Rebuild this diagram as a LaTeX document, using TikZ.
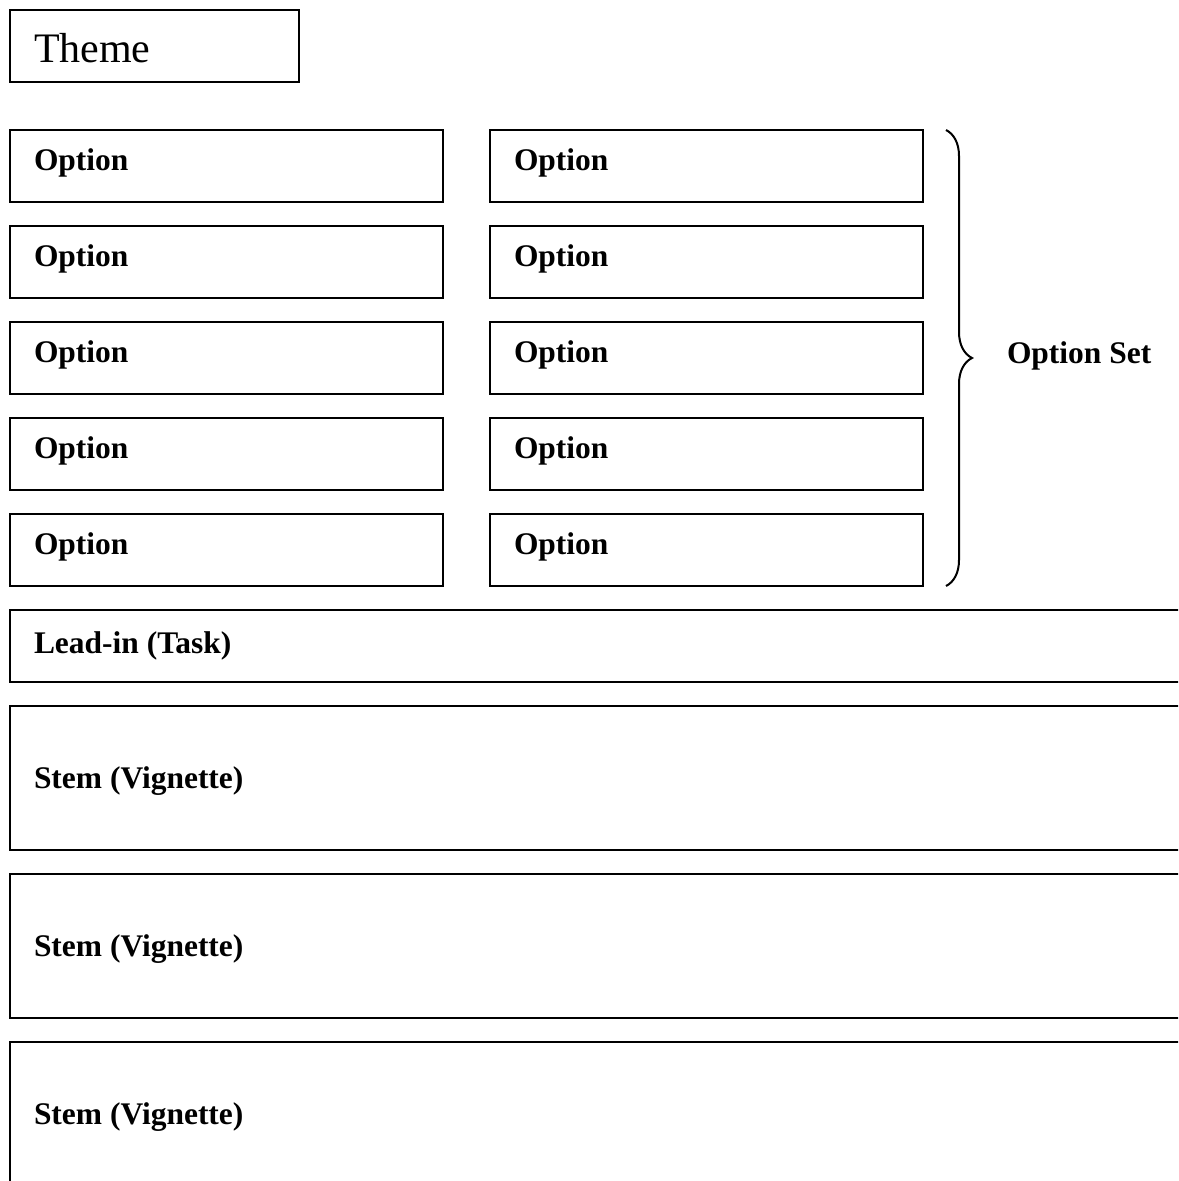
\documentclass[tikz,border=0pt]{standalone}
\usepackage{fontspec}
\setmainfont{Liberation Serif}
\usetikzlibrary{positioning}
\usetikzlibrary{decorations.pathreplacing}

\begin{document}
\begin{tikzpicture}[x=0.75pt,y=-0.75pt,line width=1.5pt,
  box/.style={draw,rectangle,anchor=north west,inner sep=0pt,outer sep=0pt,minimum height=54pt},
  optbox/.style={box,minimum width=324.75pt},
  widebox/.style={box,minimum width=900pt},
  lbl/.style={font=\bfseries\fontsize{23.6}{28}\selectfont,inner sep=0pt,anchor=base west}]
  \useasboundingbox (0,0) rectangle (1178,1181);
  \clip (0,0) rectangle (1178,1181);
  % theme
  \node[box,minimum width=216.75pt] (theme) at (10,10) {};
  \node[font=\fontsize{31.5}{38}\selectfont,inner sep=0pt,anchor=base west] (theme-text) at (33,63) {Theme};
  % option grid
  \foreach \r in {1,...,5} {
    \pgfmathsetmacro\ytop{130+96*(\r-1)}
    \node[optbox] (opt-l-\r) at (10,\ytop) {};
    \node[optbox] (opt-r-\r) at (490,\ytop) {};
    \node[lbl] (opt-l-\r-text) at (33,\ytop+40) {Option};
    \node[lbl] (opt-r-\r-text) at (513,\ytop+40) {Option};
  }
  % brace
  \coordinate (brace-top) at (946,130);
  \coordinate (brace-bot) at (946,586);
  \draw[decorate,decoration={brace,amplitude=19.5pt}] (brace-top) -- (brace-bot);
  \node[lbl] (set) at (1006,363) {Option Set};
  % lead-in and stems
  \node[widebox] (lead) at (10,610) {};
  \node[lbl] (lead-text) at (33,653) {Lead-in (Task)};
  \foreach \r/\y in {1/706,2/874,3/1042} {
    \node[widebox,minimum height=108pt] (stem-\r) at (10,\y) {};
    \node[lbl] (stem-\r-text) at (33,\y+82) {Stem (Vignette)};
  }
\end{tikzpicture}
\end{document}
